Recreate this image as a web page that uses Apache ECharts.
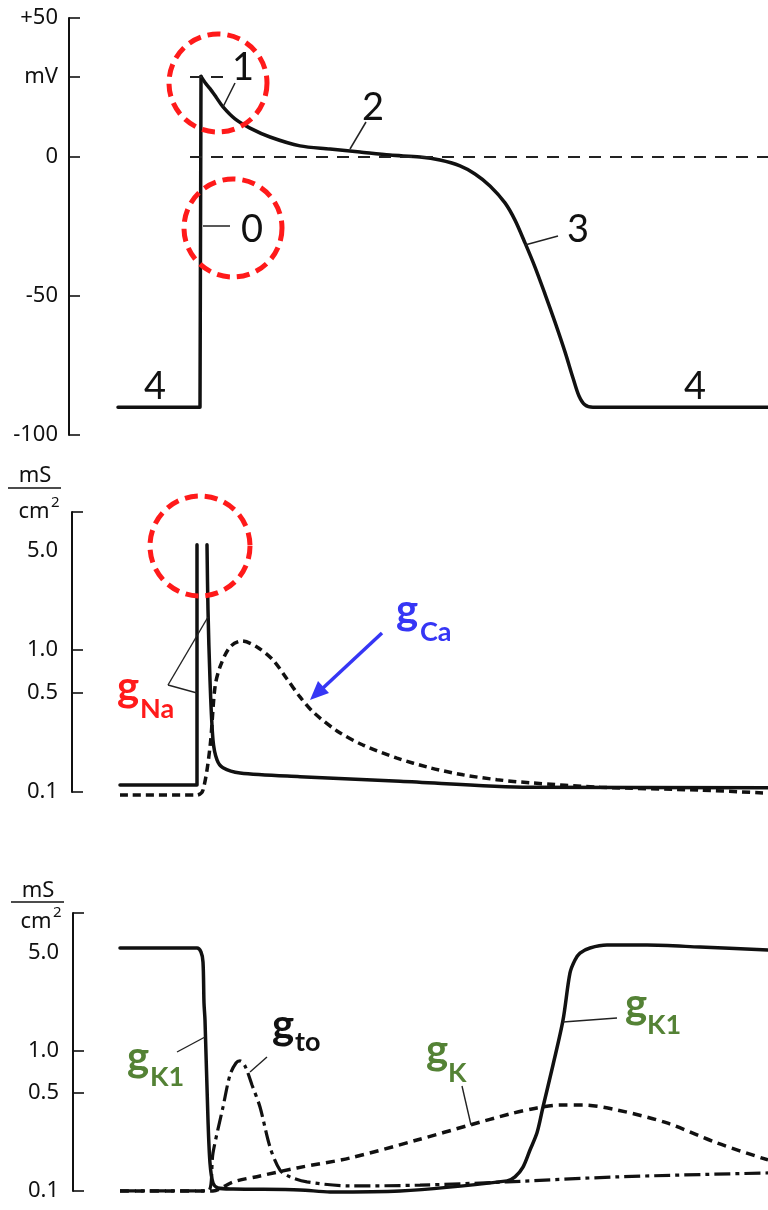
<!DOCTYPE html>
<html><head><meta charset="utf-8">
<script src="https://cdn.jsdelivr.net/npm/echarts@6/dist/echarts.min.js"></script>
<style>html,body{margin:0;padding:0;background:#fff}#c{width:768px;height:1210px}</style>
</head><body><div id="c"></div>
<script>
// ---- Panel 1: action potential (mV) ----
const apT = [49,131,132,136,141,147,154,166,181,201,231,261,291,321,351,371,391,406,421,436,446,456,466,476,486,496,504,510,516,524,699];
const apV = [-90,-90,29,26.8,24.6,21.6,18,13.7,10.4,7.2,4.0,2.9,1.8,0.7,0,-1.1,-3.2,-6.1,-10.4,-16.5,-22.7,-30.9,-39.6,-49.3,-59.4,-70.1,-79.5,-86,-89.2,-90,-90];
const vTicks = [-100,-50,0,29,50];
const vLabels = ['-100','-50','0','mV','+50'];

// ---- Panel 2: gNa, gCa (mS/cm2, log) ----
const naRiseT = [51,128,128];
const naRiseG = [0.112,0.112,5.5];
const naFallT = [138,139,141,144,148,154,171,231,331,461,699];
const naFallG = [5.5,1.91,0.615,0.232,0.168,0.148,0.136,0.128,0.119,0.108,0.107];
const caT = [51,128,134,141,146,151,161,173,188,204,218,231,244,268,294,328,361,394,428,461,531,631,699];
const caG = [0.095,0.095,0.103,0.207,0.549,0.759,1.05,1.157,1.05,0.85,0.625,0.467,0.366,0.269,0.214,0.173,0.148,0.132,0.122,0.116,0.108,0.103,0.098];

// ---- Panel 3: gK1, gto, gK (mS/cm2, log) ----
const k1T = [51,128,132,134,135,136,139,141,144,149,164,231,261,331,438,446,454,461,468,474,484,494,501,506,511,521,538,578,631,699];
const k1G = [5.44,5.44,5.1,4.32,2.2,1.66,0.321,0.158,0.114,0.105,0.1033,0.1017,0.0984,0.1,0.118,0.126,0.148,0.196,0.26,0.398,0.794,1.66,3.61,4.47,5.01,5.44,5.71,5.71,5.53,5.27];
const toT = [51,139,144,154,161,167,171,176,183,191,201,211,221,238,281,351,438,548,699];
const toG = [0.1,0.1,0.187,0.398,0.674,0.821,0.849,0.782,0.572,0.398,0.206,0.141,0.126,0.116,0.1086,0.11,0.116,0.126,0.1345];
const kT = [51,144,164,191,228,281,348,401,441,468,491,514,548,598,648,699];
const kG = [0.1,0.1,0.116,0.128,0.146,0.172,0.231,0.296,0.355,0.392,0.411,0.411,0.379,0.306,0.22,0.1665];

const gLabelVals = [0.1,0.5,1,5];
const gLabels = ['0.1','0.5','1.0','5.0'];
const gTicks2 = [0.1,0.5,1,9.36];
const gTicks3 = [0.1,0.5,1,9.67];

const zip = (a,b) => a.map((t,i)=>[t,b[i]]);
const fmtG = v => { let bi=0, bd=1e9; gLabelVals.forEach((g,i)=>{const d=Math.abs(Math.log10(v)-Math.log10(g)); if(d<bd){bd=d;bi=i;}}); return gLabels[bi]; };
const fmtV = v => { let bi=0, bd=1e9; vTicks.forEach((g,i)=>{const d=Math.abs(v-g); if(d<bd){bd=d;bi=i;}}); return vLabels[bi]; };

const INK = '#111';
const lblStyle = {color: INK, fontSize: 22, fontFamily: 'Noto Sans'};
const axisLine = {show:true, lineStyle:{color:INK, width:2}};

function yLog(grid, max, ticks){
  return {gridIndex:grid, type:'log', logBase:10, min:0.0999, max:max,
    axisLine, splitLine:{show:false}, minorTick:{show:false}, minorSplitLine:{show:false},
    axisTick:{show:true, inside:true, length:11, lineStyle:{color:INK,width:1.6}, customValues:ticks},
    axisLabel:Object.assign({customValues:gLabelVals, formatter:fmtG, margin:14}, lblStyle)};
}

const solid = (w)=>({color:INK, width:w||3.5, type:'solid', cap:'round', join:'round'});
const base = {type:'line', showSymbol:false, symbol:'none', clip:false, silent:true, animation:false};

const RED = '#ff1a1a', BLUE = '#3636f5', GREEN = '#548235';
const T = (x,y,text,font,fill,align)=>({type:'text', z:60, x, y, style:{text, font, fill, textAlign:align||'center', textVerticalAlign:'middle'}});
const L = (x1,y1,x2,y2,w,c)=>({type:'line', z:55, shape:{x1,y1,x2,y2}, style:{stroke:c||'#222', lineWidth:w||1.5}});
const C = (cx,cy,r)=>({type:'circle', z:70, shape:{cx,cy,r}, style:{fill:null, stroke:RED, lineWidth:5, lineDash:[13,7]}});
const digit = '38px Lato';
const gF = 'bold 42px Lato', sF = 'bold 27px Lato';
const uF = '22px Noto Sans', supF = '15px Noto Sans';

const graphic = [
  // unit labels
  T(35,476,'mS',uF,INK), L(8,488,61,488,1.5,INK), T(34,512,'cm',uF,INK,'center'), T(51,503,'2',supF,INK,'left'),
  T(38,891,'mS',uF,INK), L(11,902,64,902,1.5,INK), T(36,922,'cm',uF,INK,'center'), T(53,913,'2',supF,INK,'left'),
  // phase numbers
  T(243,68,'1',digit,INK), L(235,83,223,107),
  T(373,108,'2',digit,INK), L(366,122,350,149),
  T(578,230,'3',digit,INK), L(558,236,525,245),
  T(252,230,'0',digit,INK), L(203,226,230,226),
  T(155,387,'4',digit,INK), T(695,387,'4',digit,INK),
  // gNa
  T(128,687,'g',gF,RED), T(140,709,'Na',sF,RED,'left'),
  L(168,685,197,693,1.4), L(168,685,208,617,1.4),
  // gCa
  T(407,610,'g',gF,BLUE), T(420,632,'Ca',sF,BLUE,'left'),
  L(382,633,323,688,3.5,BLUE),
  {type:'polygon', z:60, shape:{points:[[310,700],[329,693],[318,681]]}, style:{fill:BLUE}},
  // panel 3
  T(138,1057,'g',gF,GREEN), T(150,1077,'K1',sF,GREEN,'left'), L(177,1052,205,1037,1.4),
  T(283,1025,'g',gF,INK), T(295,1042,'to',sF,INK,'left'), L(267,1057,250,1072,1.4),
  T(437,1050,'g',gF,GREEN), T(448,1073,'K',sF,GREEN,'left'), L(462,1086,471,1125,1.4),
  T(636,1004,'g',gF,GREEN), T(647,1025,'K1',sF,GREEN,'left'), L(617,1018,563,1022,1.4),
  // red dashed circles
  C(218,83,49), C(233,228,49), C(200,546,50)
];

const option = {
  backgroundColor:'#fff', animation:false,
  grid:[
    {left:69, top:18, width:699, height:417, containLabel:false, outerBoundsMode:'none'},
    {left:72, top:512, width:696, height:280, containLabel:false, outerBoundsMode:'none'},
    {left:73, top:913, width:695, height:278, containLabel:false, outerBoundsMode:'none'}
  ],
  xAxis:[
    {gridIndex:0, type:'value', min:0, max:699, show:false},
    {gridIndex:1, type:'value', min:3, max:699, show:false},
    {gridIndex:2, type:'value', min:4, max:699, show:false}
  ],
  yAxis:[
    {gridIndex:0, type:'value', min:-100, max:50, axisLine, splitLine:{show:false},
     axisTick:{show:true, inside:true, length:11, lineStyle:{color:INK,width:1.6}, customValues:vTicks},
     axisLabel:Object.assign({customValues:vTicks, formatter:fmtV, margin:11}, lblStyle)},
    yLog(1, 9.37, gTicks2),
    yLog(2, 9.68, gTicks3)
  ],
  graphic: graphic,
  series:[
    Object.assign({}, base, {xAxisIndex:0, yAxisIndex:0, data:zip(apT.slice(0,3), apV.slice(0,3)), lineStyle:solid(3.5),
      markLine:{silent:true, symbol:'none', label:{show:false}, lineStyle:{color:'#222', width:2, type:[12,9]},
        data:[[{coord:[121,0]},{coord:[699,0]}],[{coord:[121,29]},{coord:[162,29]}]]}}),
    Object.assign({}, base, {xAxisIndex:0, yAxisIndex:0, smooth:0.3, data:zip(apT.slice(2), apV.slice(2)), lineStyle:solid(3.5)}),
    Object.assign({}, base, {xAxisIndex:1, yAxisIndex:1, data:zip(naRiseT, naRiseG), lineStyle:solid(3.5)}),
    Object.assign({}, base, {xAxisIndex:1, yAxisIndex:1, smooth:0.3, data:zip(naFallT, naFallG), lineStyle:solid(3.5)}),
    Object.assign({}, base, {xAxisIndex:1, yAxisIndex:1, smooth:0.3, data:zip(caT, caG), lineStyle:{color:INK, width:3.5, type:[8,5]}}),
    Object.assign({}, base, {xAxisIndex:2, yAxisIndex:2, smooth:0.3, data:zip(kT, kG), lineStyle:{color:INK, width:3.5, type:[9,6]}}),
    Object.assign({}, base, {xAxisIndex:2, yAxisIndex:2, smooth:0.3, data:zip(toT, toG), lineStyle:{color:INK, width:3.2, type:[16,5,4,5]}}),
    Object.assign({}, base, {xAxisIndex:2, yAxisIndex:2, smooth:0.3, data:zip(k1T, k1G), lineStyle:solid(3.5)})
  ]
};
const chart = echarts.init(document.getElementById('c'), null, {renderer:'canvas'});
chart.setOption(option);
</script></body></html>
